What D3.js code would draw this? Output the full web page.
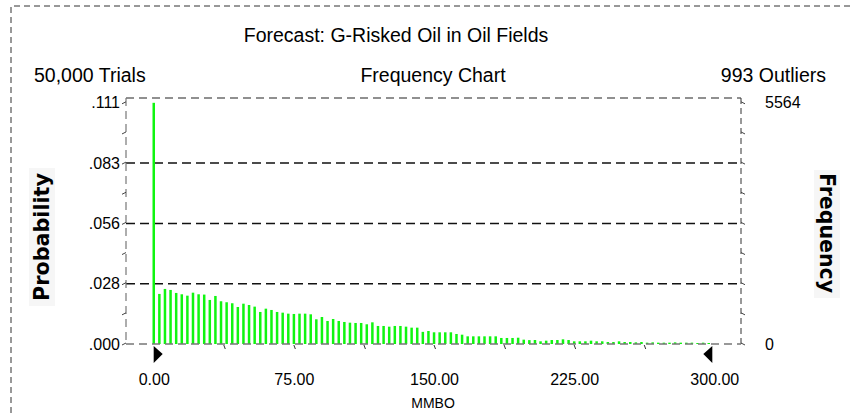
<!DOCTYPE html>
<html>
<head>
<meta charset="utf-8">
<script src="https://cdn.jsdelivr.net/npm/d3@7/dist/d3.min.js"></script>
<style>
  html, body { margin: 0; padding: 0; background: #fff; }
  svg { display: block; }
  text { font-family: "Liberation Sans", Arial, sans-serif; fill: #000; }
</style>
</head>
<body>
<svg id="chart" width="851" height="413"></svg>
<script>
// Forecast summary
const trials = 50000;
const outliers = 993;
const binWidth = 3; // MMBO per cell

// Frequency per cell, cells start at 0, 3, 6, ... 297 MMBO
const frequencies = [
  5564, 1155, 1270, 1247, 1178, 1147, 1115, 1184, 1147, 1140,
  1016, 1108,  986,  963,  940,  854,  930,  900,  862,  739,
   815,  785,  739,  723,  700,  693,  700,  700,  685,  570,
   623,  531,  577,  531,  508,  492,  485,  485,  455,  500,
   416,  416,  400,  416,  416,  400,  377,  377,  280,  300,
   270,  270,  270,  270,  231,  215,  177,  177,  177,  177,
   177,  177,  139,  139,  139,  145,  100,   90,   92,   62,
    77,   92,   92,  108,   92,   62,   62,   62,   77,   62,
    62,   46,   46,   62,   46,   46,   38,   46,   31,   38,
    31,   31,   31,   38,   31,   31,   31,   23,   31,   23
];

// Axis ticks and labels
const probTicks  = [0, 0.02782, 0.05564, 0.08346, 0.11128];
const probLabels = [".000", ".028", ".056", ".083", ".111"];
const freqTicks  = [0, 5564];
const xTicks     = [0, 75, 150, 225, 300];
const probMax    = 0.1135;

const svg = d3.select("#chart");

// plot frame
const L = 126, R = 741, T = 98, B = 344;

const x = d3.scaleLinear().domain([0, 300]).range([153.7, 714.3]);
const yProb = d3.scaleLinear().domain([0, probMax]).range([B, T]);
const yFreq = d3.scaleLinear().domain([0, probMax * trials]).range([B, T]);

// outer dashed border
svg.append("path")
  .attr("d", `M11,413 L11,6 L851,6`)
  .attr("fill", "none").attr("stroke", "#333").attr("stroke-width", 1)
  .attr("stroke-dasharray", "6,4");

// headings
svg.append("text").attr("x", 396).attr("y", 42).attr("text-anchor", "middle")
  .style("font-size", "19.5px").text("Forecast: G-Risked Oil in Oil Fields");
svg.append("text").attr("x", 34).attr("y", 82)
  .style("font-size", "19.5px").text(d3.format(",")(trials) + " Trials");
svg.append("text").attr("x", 433).attr("y", 82).attr("text-anchor", "middle")
  .style("font-size", "19.5px").text("Frequency Chart");
svg.append("text").attr("x", 826).attr("y", 82).attr("text-anchor", "end")
  .style("font-size", "19.5px").text(outliers + " Outliers");

// side titles on pale panels
svg.append("rect").attr("x", 29).attr("y", 168).attr("width", 26).attr("height", 138).attr("fill", "#f6f6f6");
svg.append("text")
  .attr("transform", "translate(49,237) rotate(-90)")
  .attr("text-anchor", "middle")
  .attr("textLength", 128).attr("lengthAdjust", "spacingAndGlyphs")
  .style("font-family", "'DejaVu Sans', sans-serif").style("font-weight", "bold").style("font-size", "21px")
  .text("Probability");
svg.append("rect").attr("x", 814).attr("y", 170).attr("width", 26).attr("height", 128).attr("fill", "#f6f6f6");
svg.append("text")
  .attr("transform", "translate(820,233) rotate(90)")
  .attr("text-anchor", "middle")
  .attr("textLength", 120).attr("lengthAdjust", "spacingAndGlyphs")
  .style("font-family", "'DejaVu Sans', sans-serif").style("font-weight", "bold").style("font-size", "21px")
  .text("Frequency");

// gridlines
svg.append("g").selectAll("line")
  .data(probTicks.slice(1, 4)).join("line")
  .attr("x1", L).attr("x2", R)
  .attr("y1", d => yProb(d)).attr("y2", d => yProb(d))
  .attr("stroke", "#111").attr("stroke-width", 1.5).attr("stroke-dasharray", "9,5");

// frame: top, left, right
svg.append("line").attr("x1", L).attr("x2", R).attr("y1", T).attr("y2", T)
  .attr("stroke", "#222").attr("stroke-width", 1.2).attr("stroke-dasharray", "8,5");
svg.append("line").attr("x1", L).attr("x2", L).attr("y1", T).attr("y2", B)
  .attr("stroke", "#777").attr("stroke-width", 1.2).attr("stroke-dasharray", "8,5");
svg.append("line").attr("x1", R).attr("x2", R).attr("y1", T).attr("y2", B)
  .attr("stroke", "#333").attr("stroke-width", 1).attr("stroke-dasharray", "6,4");

// bars
svg.append("g").selectAll("rect")
  .data(frequencies).join("rect")
  .attr("x", (d, i) => x(i * binWidth) - 1.2)
  .attr("width", 2.5)
  .attr("y", d => yFreq(d))
  .attr("height", d => B - yFreq(d))
  .attr("fill", "#10f510");

// baseline
svg.append("line").attr("x1", L).attr("x2", R).attr("y1", B).attr("y2", B)
  .attr("stroke", "#777").attr("stroke-width", 1.5).attr("stroke-dasharray", "8,5");

// minor tick marks
const halfProb = d3.range(0, 9).map(k => k * probTicks[1] / 2);
svg.append("g").selectAll("path").data(halfProb).join("path")
  .attr("d", d => `M${L - 4},${yProb(d) + 1} L${L},${yProb(d) - 1}`)
  .attr("stroke", "#444").attr("fill", "none");
svg.append("g").selectAll("path").data(halfProb).join("path")
  .attr("d", d => `M${R},${yProb(d) - 1} L${R + 4},${yProb(d) + 1}`)
  .attr("stroke", "#444").attr("fill", "none");
svg.append("g").selectAll("path").data(d3.range(1, 8).map(k => k * 37.5)).join("path")
  .attr("d", d => `M${x(d)},${B + 1} L${x(d) + 1.5},${B + 5}`)
  .attr("stroke", "#333").attr("fill", "none");

// axis labels
const leftAxis = svg.append("g").attr("transform", `translate(${L},0)`)
  .call(d3.axisLeft(yProb).tickValues(probTicks)
    .tickFormat((d, i) => probLabels[i]).tickSize(0).tickPadding(6));
const rightAxis = svg.append("g").attr("transform", `translate(${R},0)`)
  .call(d3.axisRight(yFreq).tickValues(freqTicks)
    .tickFormat(d3.format("d")).tickSize(0).tickPadding(24));
const bottomAxis = svg.append("g").attr("transform", `translate(0,${B})`)
  .call(d3.axisBottom(x).tickValues(xTicks)
    .tickFormat(d3.format(".2f")).tickSize(0).tickPadding(30));
[leftAxis, rightAxis, bottomAxis].forEach(g => {
  g.select(".domain").remove();
  g.selectAll("text").style("font-family", "'Liberation Sans', Arial, sans-serif")
    .style("font-size", "16px").attr("fill", "#000");
});

svg.append("text").attr("x", 433).attr("y", 408).attr("text-anchor", "middle")
  .style("font-size", "14px").text("MMBO");

// certainty range markers
const markers = [{v: 0, dir: 1}, {v: 300, dir: -1}];
svg.append("g").selectAll("path").data(markers).join("path")
  .attr("d", d => {
    const px = x(d.v) + (d.dir > 0 ? 0 : -2);
    return `M${px},${B + 2} L${px + d.dir * 9},${B + 10} L${px},${B + 19} Z`;
  })
  .attr("fill", "#000");
</script>
</body>
</html>
